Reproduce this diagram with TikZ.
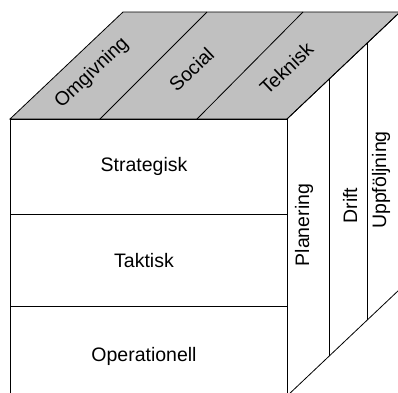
\documentclass[tikz,border=0pt]{standalone}
\usepackage{fontspec}
\setmainfont{Liberation Sans}
\usetikzlibrary{positioning}
\usetikzlibrary{calc}
\definecolor{topgray}{RGB}{192,192,192}

\begin{document}
\begin{tikzpicture}[x=1pt,y=-1pt,line width=0.8pt,
  lbl/.style={font=\fontsize{19.5}{22}\selectfont,inner sep=0pt}]
\useasboundingbox (0,0) rectangle (398,392);
\clip (0,0) rectangle (398,392);

%cube corners
\coordinate (fl) at (10,119);
\coordinate (fr) at (287,119);
\coordinate (bl) at (123,12);
\coordinate (br) at (400,12);
\coordinate (flb) at (10,396);
\coordinate (frb) at (287,396);
\coordinate (brb) at (400,289);

%top face
\draw[fill=topgray] (fl) -- (bl) -- (br) -- (fr) -- cycle;
\draw (100,119) -- (207,12);
\draw (197,119) -- (303,12);
\node[lbl,rotate=43.4] (omg) at (92,73) {Omgivning};
\node[lbl,rotate=43.4] (soc) at (191.4,69.5) {Social};
\node[lbl,rotate=43.4] (tek) at (286.4,68.5) {Teknisk};

%front face
\draw (fl) rectangle (frb);
\draw (10,214) -- (287,214);
\draw (10,306) -- (287,306);
\node[lbl,anchor=base] (strat) at (144,171) {Strategisk};
\node[lbl,anchor=base] (takt) at (144,267) {Taktisk};
\node[lbl,anchor=base] (oper) at (144,361) {Operationell};

%right face
\draw (fr) -- (br) -- (brb) -- (frb);
\draw ($(fr)!0.372!(br)$) -- ($(frb)!0.372!(brb)$);
\draw ($(fr)!0.708!(br)$) -- ($(frb)!0.708!(brb)$);
\node[lbl,rotate=90,anchor=base] (plan) at (309,225) {Planering};
\node[lbl,rotate=90,anchor=base] (drift) at (357,205.5) {Drift};
\node[lbl,rotate=90,anchor=base] (uppf) at (386,180) {Uppföljning};
\end{tikzpicture}
\end{document}
